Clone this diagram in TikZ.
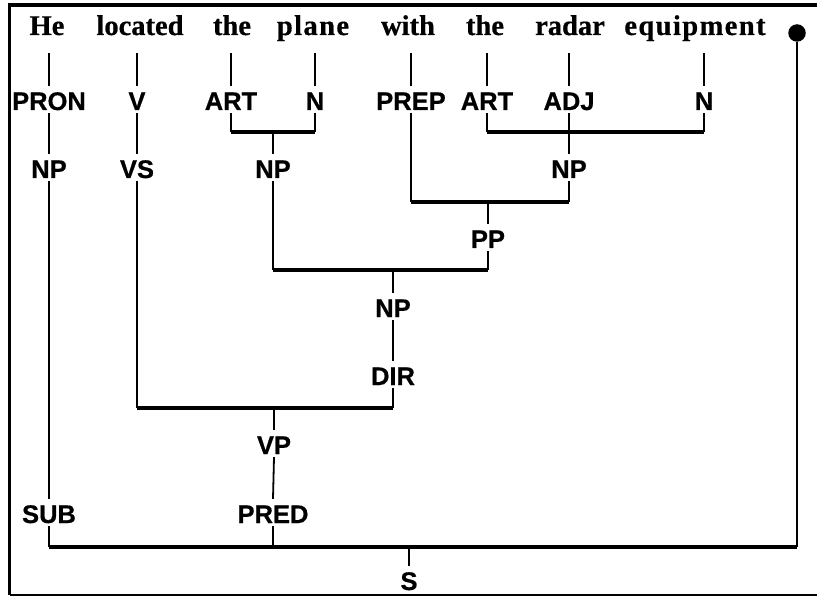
\documentclass[tikz,border=0pt]{standalone}
\usepackage{fontspec}
\setmainfont{Liberation Serif}[BoldFeatures={FakeBold=0.6}]
\setsansfont{Liberation Sans}[BoldFeatures={FakeBold=0.6}]

\begin{document}
\begin{tikzpicture}[x=1pt,y=-1pt,
    word/.style={anchor=base,inner sep=0pt,text depth=18pt,font=\bfseries\fontsize{28.5}{30}\selectfont},
    cat/.style={anchor=base,inner sep=0pt,text height=24pt,text depth=3pt,font=\sffamily\bfseries\fontsize{25.5}{28}\selectfont},
    ln/.style={line width=1.8pt},
    br/.style={line width=3.2pt}]
    \useasboundingbox (0,0) rectangle (817,596);
    % frame
    \draw[line width=3.5pt] (817,5) -- (9.5,5) -- (9.5,595);
    \draw[line width=1.5pt] (9.5,595) -- (817,595);

    % sentence
    \node[word] (he) at (47,35) {He};
    \node[word] (located) at (140,35) {located};
    \node[word] (the1) at (232,35) {the};
    \node[word] (plane) at (313,35) {\addfontfeature{LetterSpace=5,FakeBold=0.6}plane};
    \node[word] (with) at (408,35) {with};
    \node[word] (the2) at (485,35) {the};
    \node[word] (radar) at (570,35) {radar};
    \node[word] (equipment) at (695,35) {\addfontfeature{LetterSpace=5,FakeBold=0.6}equipment};
    \node[circle,fill,inner sep=0pt,minimum size=17.5pt] (dot) at (797,33) {};

    % categories
    \node[cat] (pron) at (49,110) {PRON};
    \node[cat] (v) at (137,110) {V};
    \node[cat] (art1) at (231,110) {ART};
    \node[cat] (n1) at (315,110) {N};
    \node[cat] (prep) at (411,110) {PREP};
    \node[cat] (art2) at (487,110) {ART};
    \node[cat] (adj) at (569,110) {ADJ};
    \node[cat] (n2) at (704,110) {N};
    \node[cat] (np1) at (49,178) {NP};
    \node[cat] (vs) at (137,178) {VS};
    \node[cat] (np2) at (273,178) {NP};
    \node[cat] (np3) at (569,178) {NP};
    \node[cat] (pp) at (488,248) {PP};
    \node[cat] (np4) at (393,317) {NP};
    \node[cat] (dir) at (393,385) {DIR};
    \node[cat] (vp) at (274,454) {VP};
    \node[cat] (sub) at (49,523) {SUB};
    \node[cat] (pred) at (273,523) {PRED};
    \node[cat] (s) at (409,590) {S};

    \foreach \w/\c in {he/pron,located/v,the1/art1,plane/n1,with/prep,the2/art2,radar/adj,equipment/n2}
        \draw[ln] (\w.south -| \c) -- (\c.north);

    \draw[ln] (pron.south) -- (np1.north);
    \draw[ln] (np1.south) -- (sub.north);
    \draw[ln] (v.south) -- (vs.north);

    % the plane
    \coordinate (j1) at (273,132);
    \draw[ln] (art1.south) -- (art1 |- j1);
    \draw[ln] (n1.south) -- (n1 |- j1);
    \draw[br] (art1 |- j1) -- (n1 |- j1);
    \draw[ln] (j1) -- (np2.north);

    % the radar equipment
    \coordinate (j2) at (569,132);
    \draw[ln] (art2.south) -- (art2 |- j2);
    \draw[ln] (n2.south) -- (n2 |- j2);
    \draw[br] (art2 |- j2) -- (n2 |- j2);
    \draw[ln] (adj.south) -- (np3.north);

    % with ...
    \coordinate (j3) at (488,202);
    \draw[ln] (prep.south) -- (prep |- j3);
    \draw[ln] (np3.south) -- (np3 |- j3);
    \draw[br] (prep |- j3) -- (np3 |- j3);
    \draw[ln] (j3) -- (pp.north);

    \coordinate (j4) at (393,270);
    \draw[ln] (np2.south) -- (np2 |- j4);
    \draw[ln] (pp.south) -- (pp |- j4);
    \draw[br] (np2 |- j4) -- (pp |- j4);
    \draw[ln] (j4) -- (np4.north);
    \draw[ln] (np4.south) -- (dir.north);

    \coordinate (j5) at (274,408);
    \draw[ln] (vs.south) -- (vs |- j5);
    \draw[ln] (dir.south) -- (dir |- j5);
    \draw[br] (vs |- j5) -- (dir |- j5);
    \draw[ln] (j5) -- (vp.north);
    \draw[ln] (vp.south) -- (pred.north);

    \coordinate (j6) at (409,547);
    \draw[ln] (sub.south) -- (sub |- j6);
    \draw[ln] (pred.south) -- (pred |- j6);
    \draw[ln] (dot.south) -- (dot |- j6);
    \draw[br] (sub |- j6) -- (dot |- j6);
    \draw[ln] (j6) -- (s.north);
\end{tikzpicture}
\end{document}
